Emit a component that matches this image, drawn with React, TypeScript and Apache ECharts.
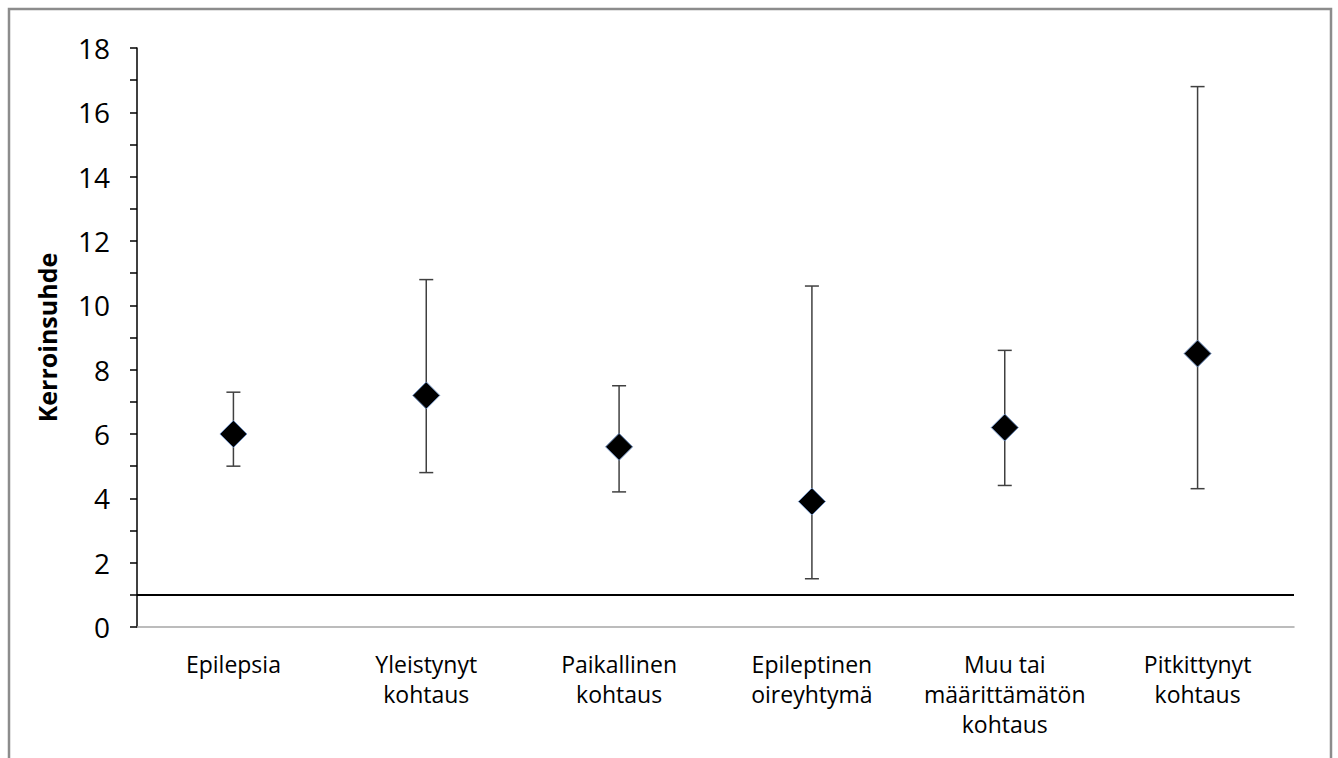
import React, { useEffect, useRef } from "react";
import * as echarts from "echarts";

const categories = [
  "Epilepsia",
  "Yleistynyt\nkohtaus",
  "Paikallinen\nkohtaus",
  "Epileptinen\noireyhtymä",
  "Muu tai\nmäärittämätön\nkohtaus",
  "Pitkittynyt\nkohtaus",
];
const pointValues = [6.0, 7.2, 5.6, 3.9, 6.2, 8.5];
const lowerValues = [5.0, 4.8, 4.2, 1.5, 4.4, 4.3];
const upperValues = [7.3, 10.8, 7.5, 10.6, 8.6, 16.8];
const referenceValue = 1;
const yMin = 0;
const yMax = 18;
const yInterval = 2;

const FONT = "'Open Sans', 'Liberation Sans', sans-serif";

export default function App() {
  const ref = useRef<HTMLDivElement>(null);

  useEffect(() => {
    if (!ref.current) return;
    const chart = echarts.init(ref.current, undefined, { renderer: "svg" });

    const errorData = categories.map((_, i) => [i, lowerValues[i], upperValues[i]]);
    const pointData = categories.map((_, i) => [i, pointValues[i]]);

    chart.setOption({
      animation: false,
      backgroundColor: "#ffffff",
      textStyle: { fontFamily: FONT },
      graphic: [
        {
          type: "rect",
          shape: { x: 9, y: 9, width: 1322, height: 820 },
          style: { fill: "none", stroke: "#8c8c8c", lineWidth: 2.5 },
          silent: true,
        },
      ],
      grid: { left: 137, right: 44, top: 48, bottom: 131 },
      xAxis: {
        type: "category",
        data: categories,
        boundaryGap: true,
        axisLine: { show: true, lineStyle: { color: "#a6a6a6", width: 1.5 } },
        axisTick: { show: false },
        splitLine: { show: false },
        axisLabel: {
          interval: 0,
          color: "#000000",
          fontFamily: FONT,
          fontSize: 23,
          lineHeight: 30,
          margin: 22,
        },
      },
      yAxis: {
        type: "value",
        min: yMin,
        max: yMax,
        interval: yInterval,
        name: "Kerroinsuhde",
        nameLocation: "middle",
        nameRotate: 90,
        nameGap: 78,
        nameTextStyle: {
          color: "#000000",
          fontFamily: FONT,
          fontWeight: "bold",
          fontSize: 25,
        },
        axisLine: { show: true, lineStyle: { color: "#000000", width: 1.5 } },
        axisTick: { show: true, length: 7, lineStyle: { color: "#000000", width: 1.5 } },
        minorTick: { show: true, splitNumber: 2, length: 7, lineStyle: { color: "#000000", width: 1.5 } },
        splitLine: { show: false },
        axisLabel: {
          color: "#000000",
          fontFamily: FONT,
          fontSize: 28,
          margin: 27,
        },
      },
      series: [
        {
          type: "custom",
          name: "CI",
          data: errorData,
          z: 2,
          renderItem: (params: any, api: any) => {
            const idx = api.value(0);
            const lo = api.coord([idx, api.value(1)]);
            const hi = api.coord([idx, api.value(2)]);
            const half = 7;
            const style = { stroke: "#404040", lineWidth: 1.5 };
            return {
              type: "group",
              children: [
                { type: "line", shape: { x1: hi[0], y1: hi[1], x2: lo[0], y2: lo[1] }, style },
                { type: "line", shape: { x1: hi[0] - half, y1: hi[1], x2: hi[0] + half, y2: hi[1] }, style },
                { type: "line", shape: { x1: lo[0] - half, y1: lo[1], x2: lo[0] + half, y2: lo[1] }, style },
              ],
            };
          },
        },
        {
          type: "scatter",
          name: "Kerroinsuhde",
          data: pointData,
          symbol: "diamond",
          symbolSize: 27,
          z: 3,
          itemStyle: { color: "#000000", opacity: 1, borderColor: "#6f8fbf", borderWidth: 1 },
          markLine: {
            silent: true,
            symbol: ["none", "none"],
            label: { show: false },
            lineStyle: { color: "#000000", width: 2, type: "solid", opacity: 1 },
            data: [{ yAxis: referenceValue }],
          },
        },
      ],
    });

    return () => chart.dispose();
  }, []);

  return (
    <div
      style={{ position: "fixed", left: 0, top: 0, width: 1338, height: 758, overflow: "hidden", background: "#fff" }}
    >
      <div ref={ref} style={{ width: 1338, height: 758 }} />
    </div>
  );
}
